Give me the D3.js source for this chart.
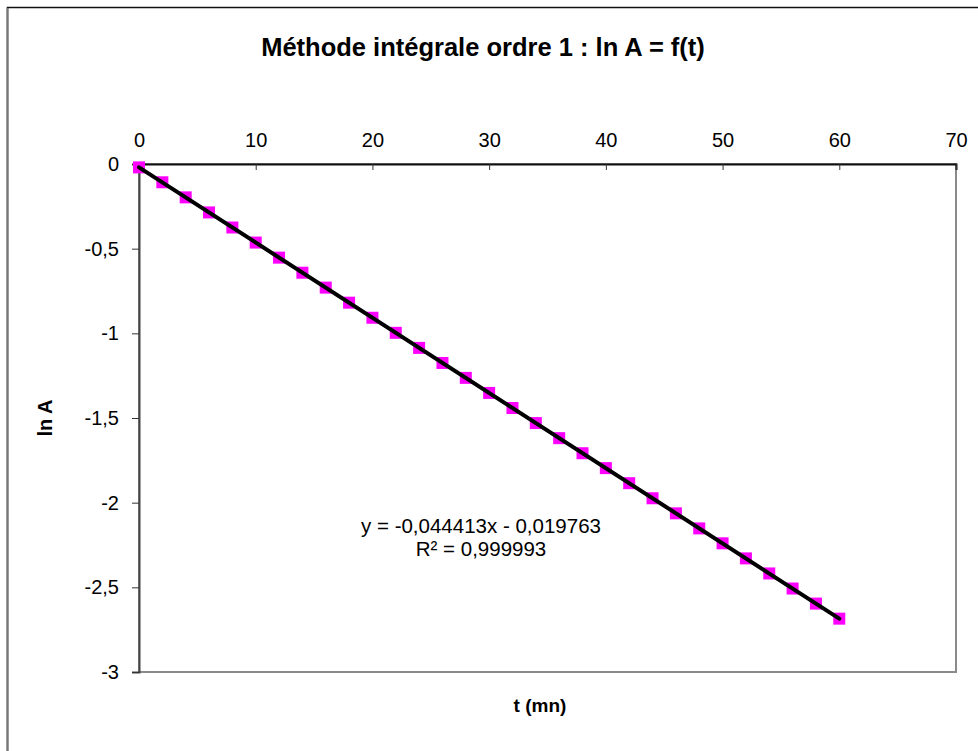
<!DOCTYPE html>
<html>
<head>
<meta charset="utf-8">
<script src="https://cdn.jsdelivr.net/npm/d3@7"></script>
<style>
  body { margin: 0; background: #fff; }
  svg { display: block; font-family: "Liberation Sans", Arial, sans-serif; }
</style>
</head>
<body>
<div class="chart"></div>
<script>
// data
var temps = [0, 2, 4, 6, 8, 10, 12, 14, 16, 18, 20, 22, 24, 26, 28, 30,
  32, 34, 36, 38, 40, 42, 44, 46, 48, 50, 52, 54, 56, 58, 60];
var lnA = [-0.020, -0.108, -0.197, -0.286, -0.375, -0.464, -0.553, -0.642,
  -0.730, -0.819, -0.908, -0.997, -1.086, -1.175, -1.263, -1.352,
  -1.441, -1.530, -1.619, -1.708, -1.796, -1.885, -1.974, -2.063,
  -2.152, -2.240, -2.329, -2.418, -2.507, -2.596, -2.685];
var xTicks = [0, 10, 20, 30, 40, 50, 60, 70];
var yTicks = [0, -0.5, -1, -1.5, -2, -2.5, -3];
var pente = -0.044413, ordonnee = -0.019763;
var eqLines = ["y = -0,044413x - 0,019763", "R\u00b2 = 0,999993"];

var W = 978, H = 751;
var margin = {top: 164, right: 22, bottom: 79, left: 139},
  width = W - margin.left - margin.right,
  height = H - margin.top - margin.bottom;

var svg = d3.select(".chart").append("svg")
  .attr("width", W)
  .attr("height", H);

// outer frame of the chart object (right/bottom outside the picture)
svg.append("rect")
  .attr("x", 7.5).attr("y", 7.5)
  .attr("width", W + 10).attr("height", H + 10)
  .attr("fill", "#fff")
  .style("stroke", "#111")
  .style("stroke-width", 1.5);
svg.append("line")
  .attr("x1", 7.5).attr("x2", 7.5).attr("y1", 8).attr("y2", H)
  .style("stroke", "#777").style("stroke-width", 2);

svg.append("text")
  .attr("x", 483).attr("y", 56)
  .attr("text-anchor", "middle")
  .style("font-size", "25.5px").style("font-weight", "bold")
  .text("Méthode intégrale ordre 1 : ln A = f(t)");

var g = svg.append("g")
  .attr("transform", "translate(" + margin.left + "," + margin.top + ")");

var x = d3.scaleLinear().domain([0, 70]).range([0, width]);
var y = d3.scaleLinear().domain([-3, 0]).range([height, 0]);

// plot area border
g.append("rect")
  .attr("x", 0).attr("y", 0)
  .attr("width", width).attr("height", height)
  .style("fill", "none")
  .style("stroke", "#8a8a8a")
  .style("stroke-width", 2);

var fmt = function(d){ return String(d).replace(".", ","); };

var xAxis = g.append("g")
  .call(d3.axisTop(x).tickValues(xTicks).tickSize(-6).tickPadding(17).tickFormat(fmt));
xAxis.select(".domain").style("stroke", "#111").style("stroke-width", 2);
xAxis.selectAll(".tick line").style("stroke", "#333");
xAxis.selectAll("text").style("font-size", "20px").style("fill", "#000");

var yAxis = g.append("g")
  .call(d3.axisLeft(y).tickValues(yTicks).tickSize(7).tickPadding(13).tickFormat(fmt));
yAxis.select(".domain").style("stroke", "#444").style("stroke-width", 2);
yAxis.selectAll(".tick line").style("stroke", "#333");
yAxis.selectAll("text").style("font-size", "20px").style("fill", "#000");

// markers
g.selectAll(".pt")
  .data(temps)
  .enter().append("rect")
  .attr("class", "pt")
  .attr("x", function(d){ return x(d) - 6; })
  .attr("y", function(d, i){ return y(lnA[i]) - 6; })
  .attr("width", 12).attr("height", 12)
  .attr("fill", "#ff00ff");

// trend line
var tLine = [0, 60];
g.append("path")
  .datum(tLine)
  .attr("d", d3.line()
    .x(function(d){ return x(d); })
    .y(function(d){ return y(pente * d + ordonnee); }))
  .style("fill", "none")
  .style("stroke", "#000")
  .style("stroke-width", 4)
  .style("stroke-linecap", "round");

svg.selectAll(".eq")
  .data(eqLines)
  .enter().append("text")
  .attr("class", "eq")
  .attr("x", 481)
  .attr("y", function(d, i){ return 533 + i * 23; })
  .attr("text-anchor", "middle")
  .style("font-size", "20.5px")
  .text(function(d){ return d; });

svg.append("text")
  .attr("x", 540).attr("y", 712)
  .attr("text-anchor", "middle")
  .style("font-size", "19px").style("font-weight", "bold")
  .text("t (mn)");

svg.append("text")
  .attr("transform", "translate(45,418) rotate(-90)")
  .attr("text-anchor", "middle")
  .attr("dy", "0.35em")
  .style("font-size", "20px").style("font-weight", "bold")
  .text("ln A");
</script>
</body>
</html>
